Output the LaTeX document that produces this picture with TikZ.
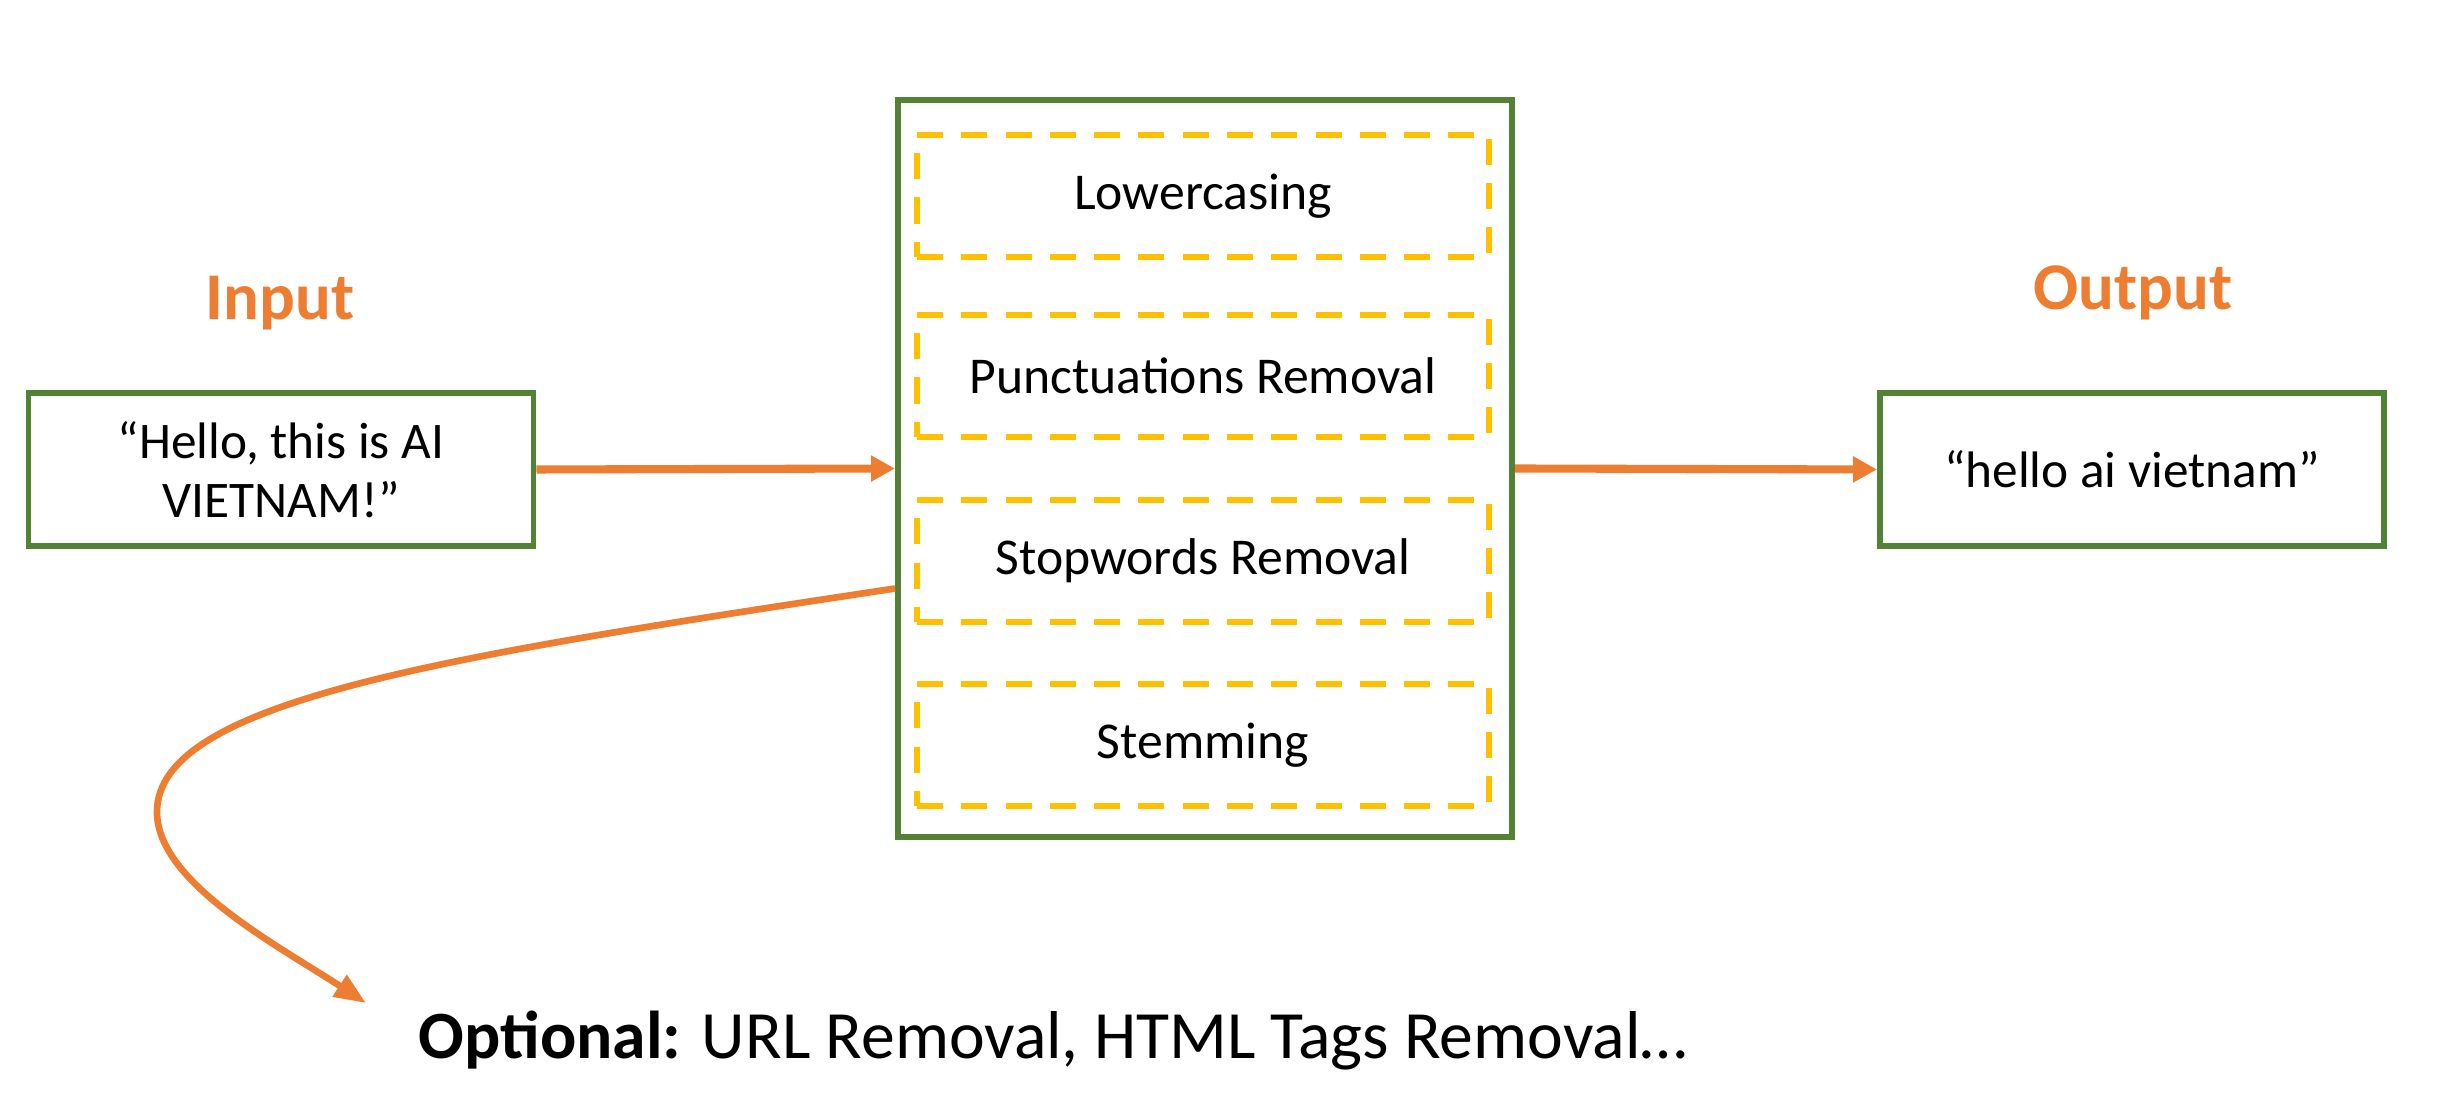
\documentclass[tikz,border=0pt]{standalone}
\usepackage{fontspec}
\setmainfont{Carlito}
\usepackage{tikz}
\usetikzlibrary{calc}
\usetikzlibrary{arrows.meta, positioning}

\definecolor{boxgreen}{RGB}{84,130,53}
\definecolor{floworange}{RGB}{237,125,49}
\definecolor{stageyellow}{RGB}{255,192,0}

\begin{document}
\begin{tikzpicture}[
  x=1cm,y=1cm,
  line join=miter,
  frame/.style={draw=boxgreen,line width=1.7pt,inner sep=0pt},
  stage/.style={draw=stageyellow,line width=1.6pt,dash pattern=on 7.4pt off 5.2pt,
    minimum width=5.72cm,minimum height=1.22cm,inner sep=0pt,
    font=\fontsize{14.7}{17.6}\selectfont},
  txt/.style={font=\fontsize{14.6}{16.8}\selectfont,align=center},
  head/.style={text=floworange,font=\fontsize{19}{22}\selectfont\bfseries,anchor=base},
  flow/.style={draw=floworange,line width=2.3pt,-{Triangle[length=6.8pt,width=7pt]}},
  loop/.style={draw=floworange,line width=1.9pt,-{Triangle[length=9pt,width=7pt]}}
]
  \useasboundingbox (0,0) rectangle (24.56,11.06);

  % Processing block
  \node[frame,minimum width=6.14cm,minimum height=7.37cm] (proc) at (12.05,6.375) {};
  \node[stage] (lower) at (12.03,9.10) {Lowercasing};
  \node[stage] (punct) at (12.03,7.30) {Punctuations Removal};
  \node[stage] (stop)  at (12.03,5.45) {Stopwords Removal};
  \node[stage] (stem)  at (12.03,3.61) {Stemming};

  % Input and output
  \node[head] (inlabel)  at (2.80,7.86)  {Input};
  \node[head] (outlabel) at (21.33,7.96) {Output};
  \node[frame,txt,minimum width=5.05cm,minimum height=1.53cm] (inp) at (2.81,6.365)
    {“Hello, this is AI\\VIETNAM!”};
  \node[frame,txt,minimum width=5.04cm,minimum height=1.53cm] (out) at (21.32,6.365)
    {“hello ai vietnam”};

  % Arrows
  \draw[flow] (inp.east) -- (proc.west);
  \draw[flow] (proc.east) -- (out.west);

  % Optional steps
  \coordinate (tip) at (3.66,1.03);
  \draw[loop] ([yshift=-1.2cm]proc.west)
      .. controls (4.50,4.50) and (1.57,4.06) .. (1.57,2.94)
      .. controls (1.57,2.24) and (2.77,1.61) .. (tip);
  \node[anchor=base west,inner sep=0pt,font=\fontsize{19.25}{23}\selectfont] (optional)
    at (4.18,0.47) {\textbf{Optional:} URL Removal, HTML Tags Removal…};
\end{tikzpicture}
\end{document}
